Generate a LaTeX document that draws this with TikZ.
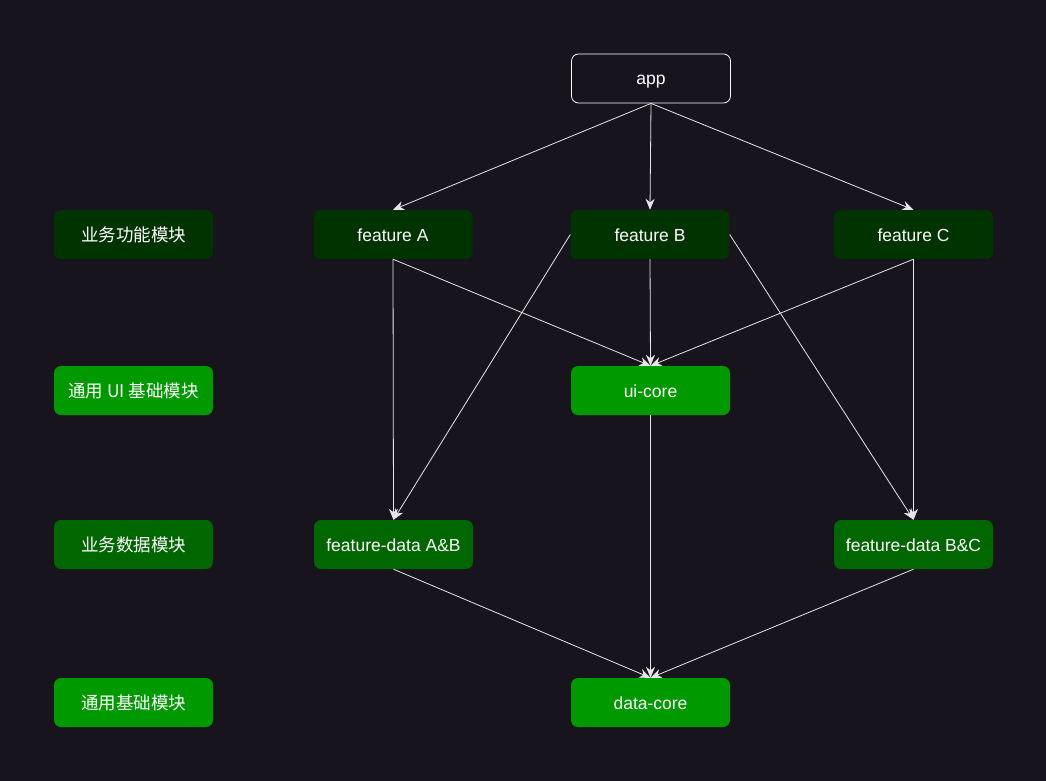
\documentclass[tikz,border=0pt]{standalone}
\usepackage{fontspec}
\setmainfont{Liberation Sans}
\newfontfamily\cjk{Noto Sans CJK SC}
\usepackage{tikz}
\usetikzlibrary{arrows.meta}

\definecolor{bgcol}{HTML}{18141D}
\definecolor{darkgr}{HTML}{003300}
\definecolor{midgr}{HTML}{006600}
\definecolor{lightgr}{HTML}{009900}
\definecolor{linecol}{HTML}{E6E6E6}

\begin{document}
\begin{tikzpicture}[
            x=1pt, y=-1pt,
            every node/.style={text=white, font=\fontsize{17.5}{20}\selectfont,
                minimum width=159pt, minimum height=49pt, rounded corners=7pt,
                inner sep=2pt, text height=16pt, text depth=3pt},
            featbox/.style={fill=darkgr},
            databox/.style={fill=midgr},
            corebox/.style={fill=lightgr},
            dep/.style={draw=linecol, line width=0.8pt, -{Stealth[length=11pt,width=9pt,inset=3.5pt]}}
        ]
        \fill[bgcol] (0,0) rectangle (1046,781);
        \useasboundingbox (0,0) rectangle (1046,781);
        % layer labels
        \node[featbox] (L1) at (133.5,234.5) {\cjk 业务功能模块};
        \node[corebox] (L2) at (133.5,390.5) {\cjk 通用 UI 基础模块};
        \node[databox] (L3) at (133.5,544.5) {\cjk 业务数据模块};
        \node[corebox] (L4) at (133.5,702.5) {\cjk 通用基础模块};
        % modules
        \node[draw=white, line width=0.8pt, fill=bgcol] (app) at (651,78.5) {app};
        \node[featbox] (fA) at (393,234.5) {feature A};
        \node[featbox] (fB) at (650,234.5) {feature B};
        \node[featbox] (fC) at (913.5,234.5) {feature C};
        \node[corebox] (ui) at (650.5,390.5) {ui-core};
        \node[databox] (dAB) at (393.5,544.5) {feature-data A\&B};
        \node[databox] (dBC) at (913.5,544.5) {feature-data B\&C};
        \node[corebox] (dc) at (650.5,702.5) {data-core};
        % dependencies
        \foreach \dst in {fA, fB, fC}
            \draw[dep] (app.south) -- (\dst.north);
        \foreach \src in {fA, fB, fC}
            \draw[dep] (\src.south) -- (ui.north);
        \draw[dep] (fA.south) -- (dAB.north);
        \draw[dep] (fB.west) -- (dAB.north);
        \draw[dep] (fB.east) -- (dBC.north);
        \draw[dep] (fC.south) -- (dBC.north);
        \foreach \src in {dAB, ui, dBC}
            \draw[dep] (\src.south) -- (dc.north);
\end{tikzpicture}
\end{document}
